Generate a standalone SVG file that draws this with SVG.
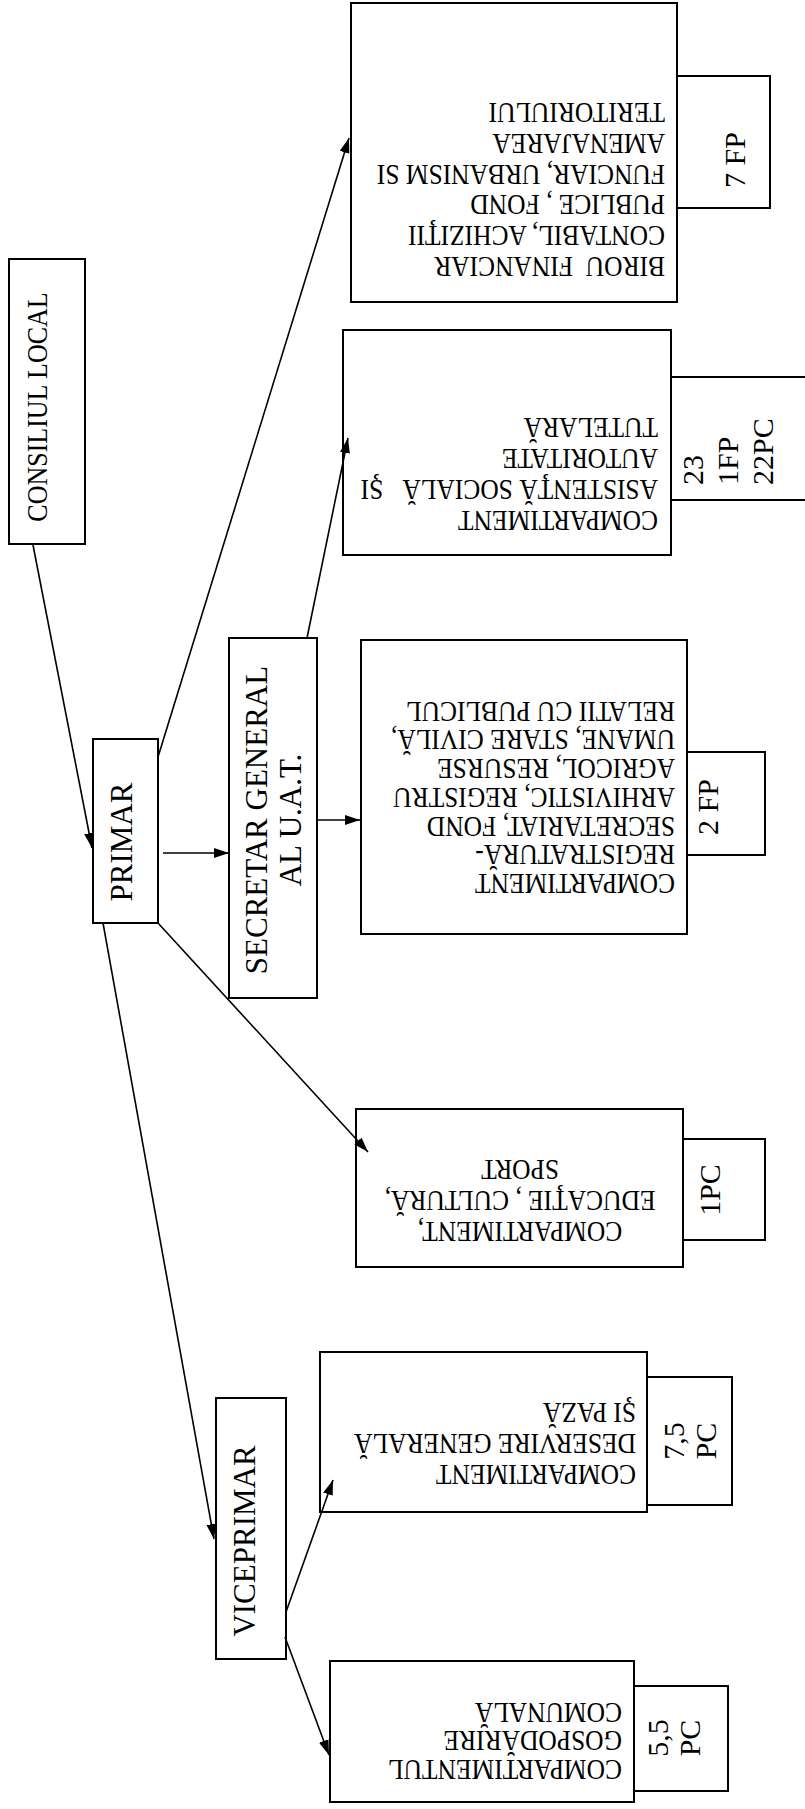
<svg xmlns="http://www.w3.org/2000/svg" width="805" height="1809" viewBox="0 0 805 1809">
<defs>
<style>
.box{fill:#fff;stroke:#000;stroke-width:2}
.t{font-family:'Liberation Serif','Times New Roman',serif;fill:#000}
.b{font-size:25.5px}
.l{font-size:31px}
.s{font-size:30px}
.c{stroke:#000;stroke-width:1.6;fill:none}
</style>
<marker id="ah" markerWidth="15" markerHeight="10" refX="15" refY="5" orient="auto" markerUnits="userSpaceOnUse"><path d="M0,0 L15,5 L0,10 z" fill="#000"/></marker>
</defs>
<rect width="805" height="1809" fill="#fff"/>

<g id="consiliul">
<rect class="box" x="9" y="259" width="76" height="285"/>
<text class="t" font-size="26" text-anchor="middle" transform="translate(47,407) rotate(-90) scale(1,1.15)">CONSILIUL LOCAL</text>
</g>

<g id="primar">
<rect class="box" x="93" y="739" width="65" height="184"/>
<text class="t l" text-anchor="middle" transform="translate(132,842) rotate(-90)">PRIMAR</text>
</g>

<g id="secretar">
<rect class="box" x="229" y="638" width="88" height="360"/>
<text class="t l" text-anchor="middle" transform="translate(267,820) rotate(-90)"><tspan x="0" y="0">SECRETAR GENERAL</tspan><tspan x="0" y="34">AL U.A.T.</tspan></text>
</g>

<g id="viceprimar">
<rect class="box" x="216" y="1398" width="70" height="261"/>
<text class="t l" text-anchor="middle" transform="translate(255,1541) rotate(-90)">VICEPRIMAR</text>
</g>

<g id="birou">
<rect class="box" x="351" y="3" width="326" height="299"/>
<text class="t b" xml:space="preserve" transform="translate(665,257) rotate(180) scale(1,1.15)"><tspan x="0" y="0">BIROU  FINANCIAR</tspan><tspan x="0" dy="26.8">CONTABIL, ACHIZIŢII</tspan><tspan x="0" dy="26.8">PUBLICE , FOND</tspan><tspan x="0" dy="26.8">FUNCIAR, URBANISM SI</tspan><tspan x="0" dy="26.8">AMENAJAREA</tspan><tspan x="0" dy="26.8">TERITORIULUI</tspan></text>
</g>
<g id="birou-nr">
<rect class="box" x="677" y="76" width="93" height="132"/>
<text class="t s" text-anchor="middle" transform="translate(745,160) rotate(-90)">7 FP</text>
</g>

<g id="asistenta">
<rect class="box" x="343" y="330" width="328" height="225"/>
<text class="t b" xml:space="preserve" transform="translate(658,511) rotate(180) scale(1,1.15)"><tspan x="0" y="0">COMPARTIMENT</tspan><tspan x="0" dy="27">ASISTENŢĂ SOCIALĂ   ŞI</tspan><tspan x="0" dy="27">AUTORITATE</tspan><tspan x="0" dy="27">TUTELARĂ</tspan></text>
</g>
<g id="asistenta-nr">
<rect class="box" x="671" y="377" width="150" height="123"/>
<text class="t s" transform="translate(703,485) rotate(-90)"><tspan x="0" y="0">23</tspan><tspan x="0" y="35">1FP</tspan><tspan x="0" y="70">22PC</tspan></text>
</g>

<g id="registratura">
<rect class="box" x="361" y="640" width="326" height="294"/>
<text class="t b" transform="translate(675,874) rotate(180) scale(1,1.15)"><tspan x="0" y="0">COMPARTIMENT</tspan><tspan x="0" dy="25">REGISTRATURĂ-</tspan><tspan x="0" dy="25">SECRETARIAT, FOND</tspan><tspan x="0" dy="25">ARHIVISTIC, REGISTRU</tspan><tspan x="0" dy="25">AGRICOL, RESURSE</tspan><tspan x="0" dy="25">UMANE, STARE CIVILĂ,</tspan><tspan x="0" dy="25">RELATII CU PUBLICUL</tspan></text>
</g>
<g id="registratura-nr">
<rect class="box" x="687" y="752" width="78" height="103"/>
<text class="t s" text-anchor="middle" transform="translate(718,807) rotate(-90)">2 FP</text>
</g>

<g id="educatie">
<rect class="box" x="356" y="1109" width="327" height="158"/>
<text class="t b" text-anchor="middle" transform="translate(520,1222) rotate(180) scale(1,1.15)"><tspan x="0" y="0">COMPARTIMENT,</tspan><tspan x="0" dy="27">EDUCAŢIE , CULTURĂ,</tspan><tspan x="0" dy="27">SPORT</tspan></text>
</g>
<g id="educatie-nr">
<rect class="box" x="683" y="1139" width="82" height="101"/>
<text class="t s" text-anchor="middle" transform="translate(720,1190) rotate(-90)">1PC</text>
</g>

<g id="deservire">
<rect class="box" x="320" y="1352" width="327" height="160"/>
<text class="t b" transform="translate(636,1465) rotate(180) scale(1,1.15)"><tspan x="0" y="0">COMPARTIMENT</tspan><tspan x="0" dy="27">DESERVIRE GENERALĂ</tspan><tspan x="0" dy="27">ŞI PAZĂ</tspan></text>
</g>
<g id="deservire-nr">
<rect class="box" x="647" y="1377" width="85" height="128"/>
<text class="t s" text-anchor="middle" transform="translate(684,1441) rotate(-90)"><tspan x="0" y="0">7,5</tspan><tspan x="0" y="32">PC</tspan></text>
</g>

<g id="gospodarire">
<rect class="box" x="330" y="1661" width="304" height="141"/>
<text class="t b" transform="translate(622,1760) rotate(180) scale(1,1.15)"><tspan x="0" y="0">COMPARTIMENTUL</tspan><tspan x="0" dy="25">GOSPODĂRIRE</tspan><tspan x="0" dy="25">COMUNALĂ</tspan></text>
</g>
<g id="gospodarire-nr">
<rect class="box" x="634" y="1686" width="94" height="105"/>
<text class="t s" text-anchor="middle" transform="translate(668,1738) rotate(-90)"><tspan x="0" y="0">5,5</tspan><tspan x="0" y="32">PC</tspan></text>
</g>

<g id="connectors" class="c" marker-end="url(#ah)">
<path d="M33,545 L92,848"/>
<path d="M163,853 L229,853"/>
<path d="M158,757 L349,138"/>
<path d="M158,923 L368,1152"/>
<path d="M103,923 L214,1539"/>
<path d="M307,638 L348,438"/>
<path d="M318,820 L360,820"/>
<path d="M286,1612 L333,1480"/>
<path d="M285,1637 L329,1755"/>
</g>
</svg>
